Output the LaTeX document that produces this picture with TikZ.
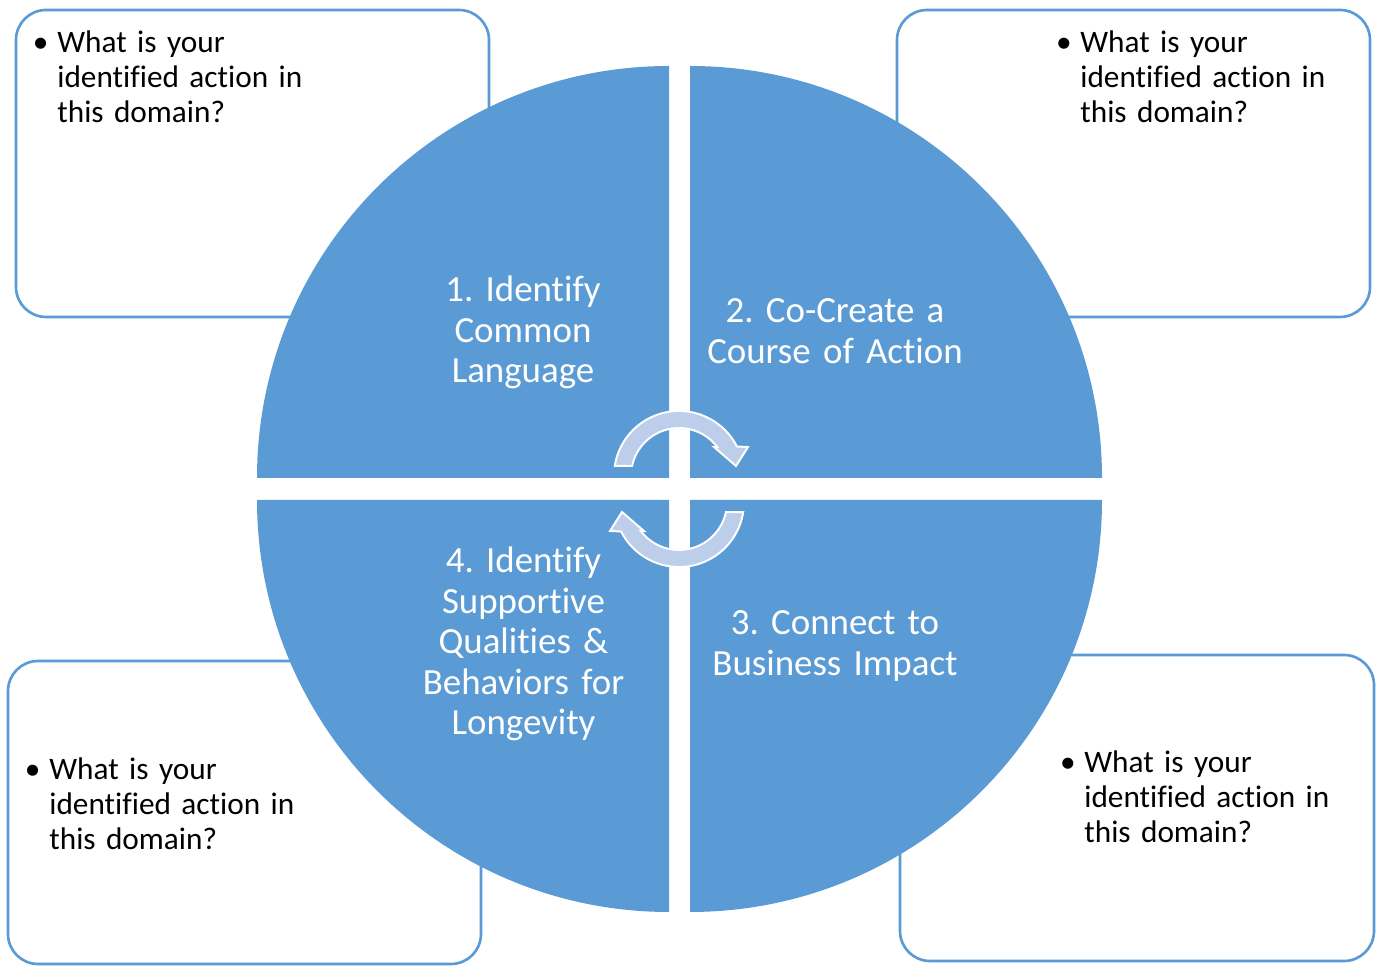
\documentclass[tikz,border=0pt]{standalone}
\usepackage{fontspec}
\setmainfont{Carlito}[Ligatures=NoCommon]
\definecolor{quadblue}{HTML}{5B9BD5}
\definecolor{turnblue}{RGB}{189,206,234}
\frenchspacing

\begin{document}
\begin{tikzpicture}[scale=2,
  qbox/.style={draw=quadblue,line width=1.5pt,fill=white,rounded corners=0.6cm},
  quad/.style={fill=quadblue},
  turn/.style={fill=turnblue,draw=white,line width=1.1pt,line join=miter},
  ask/.style={anchor=base west,inner sep=0,text width=5.5cm,align=left,
    font=\fontsize{17.8}{19.9}\selectfont},
  qlabel/.style={anchor=base,inner sep=0,text width=6.5cm,align=center,text=white,
    font=\fontsize{21}{23}\selectfont}]
\useasboundingbox (0,0) rectangle (13.76,9.66);
% answer boxes in the corners
\draw[qbox] (0.16,6.49) rectangle (4.89,9.56);
\draw[qbox] (8.97,6.49) rectangle (13.70,9.56);
\draw[qbox] (0.08,0.02) rectangle (4.81,3.05);
\draw[qbox] (9.00,0.05) rectangle (13.74,3.11);
\node[ask] (askA) at (0.57,9.13) {\llap{\textbullet\hskip 5pt}What is your\\identified action in\\this domain?};
\node[ask] (askB) at (10.80,9.13) {\llap{\textbullet\hskip 5pt}What is your\\identified action in\\this domain?};
\node[ask] (askD) at (0.49,1.86) {\llap{\textbullet\hskip 5pt}What is your\\identified action in\\this domain?};
\node[ask] (askC) at (10.84,1.93) {\llap{\textbullet\hskip 5pt}What is your\\identified action in\\this domain?};
% four quarter discs
\fill[quad] (6.69,4.88) -- (2.57,4.88) arc[start angle=180,end angle=90,radius=4.12] -- cycle;
\fill[quad] (6.90,4.88) -- (6.90,9.00) arc[start angle=90,end angle=0,radius=4.12] -- cycle;
\fill[quad] (6.69,4.66) -- (6.69,0.54) arc[start angle=270,end angle=180,radius=4.12] -- cycle;
\fill[quad] (6.90,4.66) -- (11.02,4.66) arc[start angle=0,end angle=-90,radius=4.12] -- cycle;
\node[qlabel] (stepA) at (5.23,6.64) {1. Identify\\Common\\Language};
\node[qlabel] (stepB) at (8.35,6.43) {2. Co-Create a\\Course of Action};
\node[qlabel] (stepC) at (8.35,3.31) {3. Connect to\\Business Impact};
\node[qlabel] (stepD) at (5.235,3.93) {4. Identify\\Supportive\\Qualities \&\\Behaviors for\\Longevity};
% circular arrows in the middle
\begin{scope}[shift={(6.79,4.90)}]
\path[turn] (171:0.65) arc[start angle=171,end angle=27,radius=0.65] -- (0.69,0.29) -- (0.57,0.10)
  -- (0.35,0.29) -- (37:0.48) arc[start angle=37,end angle=168,radius=0.48] -- cycle;
\end{scope}
\begin{scope}[shift={(6.79,4.64)},rotate=180]
\path[turn] (171:0.65) arc[start angle=171,end angle=27,radius=0.65] -- (0.69,0.29) -- (0.57,0.10)
  -- (0.35,0.29) -- (37:0.48) arc[start angle=37,end angle=168,radius=0.48] -- cycle;
\end{scope}
\end{tikzpicture}
\end{document}
